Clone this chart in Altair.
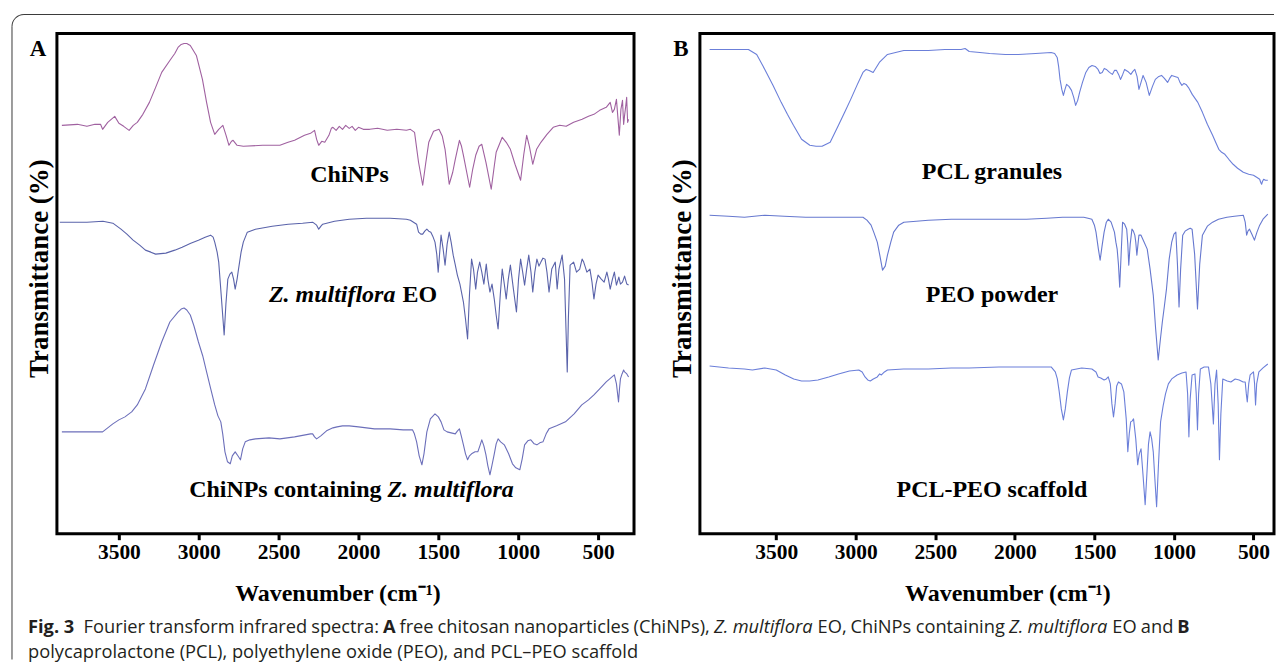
import altair as alt
import pandas as pd

# ---------------- data (wavenumber cm-1, offset transmittance a.u.) ----------------
TICKS = [3500, 3000, 2500, 2000, 1500, 1000, 500]

chinps = [(3857, 409), (3760, 410), (3700, 408), (3650, 410), (3615, 410), (3602, 405), (3570, 412),
          (3526, 418), (3500, 411), (3470, 408), (3436, 404), (3410, 409), (3385, 412), (3350, 420),
          (3309, 432), (3270, 447), (3232, 462), (3181, 474), (3150, 481), (3130, 487), (3110, 490),
          (3092, 491), (3075, 491), (3053, 489), (3015, 479), (2977, 455), (2951, 432), (2926, 412),
          (2900, 400), (2875, 405), (2849, 409), (2829, 399), (2811, 389), (2795, 393), (2785, 394),
          (2760, 389), (2721, 388), (2600, 389), (2492, 389), (2441, 392), (2400, 394), (2338, 399),
          (2300, 401), (2275, 404), (2262, 395), (2249, 389), (2230, 393), (2211, 392), (2185, 399),
          (2170, 406), (2160, 407), (2140, 404), (2120, 408), (2100, 405), (2080, 409), (2058, 406),
          (2040, 408), (2020, 404), (2000, 407), (1970, 405), (1930, 405), (1880, 406), (1820, 404),
          (1760, 405), (1700, 404), (1675, 405), (1649, 402), (1624, 372), (1598, 349), (1580, 370),
          (1560, 392), (1530, 403), (1496, 405), (1475, 398), (1458, 385), (1432, 350), (1410, 362),
          (1394, 375), (1368, 394), (1355, 388), (1343, 379), (1304, 347), (1285, 365), (1266, 379),
          (1245, 388), (1228, 390), (1202, 372), (1169, 345), (1150, 368), (1138, 382), (1100, 397),
          (1075, 392), (1049, 385), (1020, 370), (985, 354), (965, 380), (947, 399), (930, 388),
          (909, 370), (885, 385), (858, 392), (820, 400), (781, 407), (740, 409), (700, 408),
          (653, 412), (600, 415), (560, 418), (526, 420), (490, 424), (449, 427), (424, 432),
          (410, 422), (398, 425), (385, 435), (375, 415), (367, 399), (357, 425), (347, 434),
          (340, 410), (334, 419), (327, 428), (321, 437), (315, 412), (309, 415)]

eo = [(3870, 312), (3700, 312), (3600, 313), (3538, 311), (3487, 305), (3450, 300), (3411, 294),
      (3370, 289), (3334, 284), (3300, 282), (3270, 280), (3206, 281), (3150, 284), (3104, 287),
      (3050, 291), (3002, 294), (2960, 297), (2926, 299), (2910, 297), (2900, 292), (2885, 282),
      (2875, 272), (2860, 240), (2841, 199), (2830, 230), (2818, 255), (2805, 260), (2793, 262),
      (2782, 255), (2772, 245), (2760, 255), (2752, 264), (2735, 282), (2721, 292), (2696, 302),
      (2645, 305), (2540, 308), (2440, 310), (2350, 311), (2287, 312), (2262, 309), (2249, 305),
      (2235, 308), (2224, 310), (2150, 313), (2058, 315), (1950, 316), (1802, 316), (1700, 315),
      (1675, 314), (1636, 310), (1624, 302), (1610, 300), (1598, 300), (1585, 303), (1572, 305),
      (1560, 303), (1547, 302), (1535, 298), (1521, 292), (1510, 280), (1501, 262), (1490, 285),
      (1483, 299), (1470, 285), (1458, 269), (1445, 290), (1432, 302), (1420, 292), (1407, 279),
      (1395, 270), (1381, 259), (1365, 250), (1343, 232), (1330, 215), (1317, 195), (1305, 240),
      (1292, 275), (1280, 265), (1266, 245), (1255, 262), (1241, 272), (1228, 262), (1215, 250),
      (1200, 270), (1190, 255), (1177, 242), (1164, 250), (1150, 235), (1138, 219), (1126, 205),
      (1112, 240), (1100, 265), (1087, 250), (1075, 235), (1062, 255), (1049, 269), (1030, 245),
      (1011, 222), (998, 255), (985, 275), (972, 262), (960, 249), (947, 265), (934, 279),
      (920, 262), (909, 242), (896, 262), (883, 275), (870, 268), (858, 272), (845, 276),
      (832, 275), (820, 262), (807, 242), (790, 265), (768, 272), (762, 258), (756, 245),
      (745, 265), (725, 279), (710, 255), (700, 200), (693, 162), (686, 215), (675, 269),
      (653, 272), (635, 262), (615, 265), (600, 275), (590, 272), (570, 262), (551, 265),
      (538, 252), (526, 235), (513, 250), (500, 259), (480, 255), (462, 252), (445, 262),
      (435, 255), (424, 245), (410, 255), (398, 262), (385, 249), (370, 257), (360, 250),
      (347, 252), (334, 258), (320, 250), (309, 249)]

chinps_eo = [(3857, 102), (3700, 102), (3602, 102), (3570, 106), (3538, 110), (3500, 114), (3462, 117),
             (3420, 122), (3385, 129), (3334, 145), (3283, 169), (3232, 192), (3181, 212), (3130, 222),
             (3110, 225), (3092, 226), (3075, 224), (3053, 219), (3030, 208), (3002, 192), (2975, 178),
             (2951, 162), (2925, 145), (2900, 129), (2880, 118), (2862, 112), (2850, 100), (2836, 82),
             (2820, 72), (2803, 70), (2790, 78), (2772, 82), (2755, 78), (2739, 74), (2725, 85),
             (2709, 92), (2680, 94), (2645, 95), (2560, 96), (2492, 95), (2400, 97), (2300, 100),
             (2287, 100), (2275, 97), (2262, 95), (2236, 98), (2200, 103), (2160, 106), (2134, 107),
             (2100, 108), (2058, 108), (2000, 107), (1950, 106), (1900, 105), (1802, 105), (1720, 104),
             (1662, 104), (1650, 100), (1636, 92), (1620, 78), (1603, 69), (1590, 80), (1572, 102),
             (1550, 115), (1521, 120), (1500, 117), (1483, 112), (1465, 104), (1445, 102), (1420, 101),
             (1394, 100), (1380, 103), (1368, 105), (1355, 97), (1343, 89), (1330, 80), (1317, 74),
             (1305, 78), (1292, 80), (1270, 82), (1253, 82), (1240, 88), (1228, 94), (1215, 88),
             (1202, 79), (1190, 68), (1177, 59), (1165, 68), (1151, 79), (1138, 90), (1126, 95),
             (1110, 92), (1087, 89), (1060, 80), (1036, 70), (1015, 66), (990, 64), (975, 75),
             (960, 89), (940, 93), (921, 94), (900, 90), (883, 89), (865, 91), (845, 92), (825, 100),
             (807, 105), (760, 108), (704, 112), (650, 120), (602, 129), (560, 134), (526, 139),
             (490, 145), (449, 152), (420, 156), (398, 159), (385, 150), (372, 132), (366, 145),
             (360, 155), (350, 160), (340, 164), (334, 162), (320, 160), (309, 157)]

pcl = [(3919, 485), (3800, 485), (3675, 485), (3623, 480), (3572, 465), (3520, 449), (3469, 432),
       (3430, 420), (3392, 409), (3341, 395), (3289, 389), (3250, 388), (3212, 388), (3161, 392),
       (3109, 409), (3070, 422), (3032, 435), (2990, 450), (2955, 462), (2935, 465), (2916, 464),
       (2891, 462), (2852, 472), (2801, 480), (2750, 482), (2698, 484), (2620, 484), (2544, 484),
       (2440, 485), (2338, 485), (2313, 486), (2287, 483), (2220, 482), (2158, 481), (2060, 480),
       (1978, 480), (1870, 481), (1772, 482), (1750, 481), (1734, 477), (1725, 468), (1716, 455),
       (1705, 445), (1695, 439), (1685, 445), (1675, 450), (1660, 448), (1644, 444), (1630, 437),
       (1618, 429), (1605, 434), (1593, 442), (1575, 452), (1554, 462), (1535, 467), (1515, 469),
       (1495, 468), (1477, 465), (1465, 461), (1451, 462), (1438, 466), (1425, 465), (1405, 462),
       (1387, 460), (1374, 464), (1361, 464), (1348, 460), (1336, 455), (1322, 460), (1310, 465),
       (1290, 463), (1271, 460), (1258, 463), (1246, 465), (1232, 458), (1220, 445), (1207, 452),
       (1194, 459), (1175, 452), (1155, 439), (1135, 448), (1117, 455), (1095, 458), (1078, 459),
       (1060, 456), (1040, 452), (1027, 456), (1014, 459), (995, 458), (975, 457), (962, 452),
       (950, 449), (937, 451), (924, 450), (905, 446), (885, 440), (850, 432), (821, 422),
       (790, 410), (757, 399), (735, 391), (718, 385), (700, 382), (680, 380), (655, 375),
       (628, 370), (600, 366), (564, 362), (530, 360), (500, 359), (480, 357), (461, 355),
       (455, 352), (449, 350), (443, 353), (436, 355), (425, 354), (410, 354)]

peo = [(3919, 319), (3800, 318), (3700, 317), (3572, 319), (3450, 318), (3315, 317), (3150, 317),
       (2955, 317), (2930, 314), (2904, 309), (2885, 301), (2865, 292), (2848, 278), (2832, 264),
       (2815, 268), (2801, 279), (2780, 292), (2762, 302), (2730, 309), (2698, 312), (2620, 313),
       (2544, 314), (2400, 315), (2287, 315), (2100, 315), (1927, 315), (1800, 316), (1700, 317),
       (1567, 317), (1540, 316), (1516, 315), (1500, 309), (1490, 302), (1475, 285), (1464, 274),
       (1452, 288), (1439, 302), (1425, 312), (1413, 315), (1395, 312), (1374, 302), (1365, 292),
       (1357, 285), (1349, 270), (1341, 247), (1332, 280), (1323, 312), (1310, 310), (1297, 305),
       (1290, 290), (1284, 269), (1275, 290), (1264, 305), (1255, 303), (1246, 299), (1240, 292),
       (1233, 279), (1226, 290), (1220, 299), (1207, 299), (1190, 293), (1168, 285), (1150, 265),
       (1130, 239), (1115, 205), (1099, 174), (1085, 195), (1073, 212), (1060, 228), (1047, 245),
       (1030, 275), (1014, 292), (1000, 300), (988, 302), (978, 270), (968, 227), (958, 265),
       (945, 299), (930, 303), (911, 305), (898, 306), (886, 305), (870, 280), (852, 225),
       (838, 270), (821, 299), (790, 308), (757, 312), (720, 315), (667, 317), (620, 318),
       (564, 319), (552, 312), (543, 299), (535, 303), (525, 305), (510, 300), (494, 294),
       (478, 302), (461, 309), (440, 315), (410, 320)]

pcl_peo = [(3919, 168), (3800, 166), (3700, 165), (3650, 164), (3572, 166), (3500, 164), (3443, 159),
           (3390, 155), (3341, 153), (3290, 153), (3238, 154), (3170, 157), (3109, 160), (3040, 163),
           (2981, 164), (2960, 162), (2942, 157), (2925, 154), (2909, 153), (2890, 155), (2865, 157),
           (2850, 160), (2839, 159), (2820, 162), (2801, 164), (2700, 165), (2544, 165), (2400, 166),
           (2287, 166), (2100, 167), (1900, 167), (1772, 167), (1746, 162), (1733, 155), (1721, 142),
           (1708, 125), (1695, 114), (1683, 125), (1670, 142), (1657, 156), (1644, 164), (1580, 166),
           (1516, 165), (1490, 162), (1477, 157), (1460, 156), (1439, 154), (1425, 155), (1413, 157),
           (1400, 150), (1390, 130), (1380, 117), (1370, 130), (1360, 148), (1349, 152), (1330, 150),
           (1315, 142), (1300, 115), (1290, 82), (1281, 100), (1272, 112), (1262, 113), (1254, 115),
           (1240, 95), (1228, 69), (1218, 80), (1207, 85), (1195, 60), (1181, 29), (1170, 60),
           (1160, 90), (1150, 102), (1140, 95), (1130, 82), (1120, 55), (1109, 27), (1097, 70),
           (1084, 112), (1068, 128), (1053, 140), (1035, 150), (1014, 155), (980, 159), (950, 161),
           (924, 162), (914, 140), (906, 97), (898, 135), (886, 159), (868, 160), (860, 140),
           (852, 104), (845, 140), (834, 165), (810, 167), (783, 167), (768, 150), (752, 110),
           (742, 150), (732, 164), (722, 130), (714, 74), (705, 120), (693, 155), (665, 153),
           (642, 152), (615, 155), (590, 154), (565, 152), (552, 152), (545, 140), (539, 132),
           (530, 150), (521, 159), (500, 162), (493, 150), (487, 129), (480, 150), (466, 162),
           (440, 166), (410, 170)]

SERIES_A = ["ChiNPs", "Z. multiflora EO", "ChiNPs containing Z. multiflora"]
COLORS_A = ["#a061a0", "#5a63aa", "#6c6fba"]
SERIES_B = ["PCL granules", "PEO powder", "PCL-PEO scaffold"]
COLORS_B = ["#6b7fd9", "#6678cf", "#6b7fd9"]

# labels: (text, wn, t, style, align)
labels_a = [("ChiNPs", 2056, 359, "normal", "center"),
            ("Z. multiflora", 1769, 239, "italic", "right"),
            ("EO", 1725, 239, "normal", "left"),
            ("ChiNPs containing", 1856, 44, "normal", "right"),
            ("Z. multiflora", 1819, 44, "italic", "left")]
labels_b = [("PCL granules", 2144, 362, "normal", "center"),
            ("PEO powder", 2144, 239, "normal", "center"),
            ("PCL-PEO scaffold", 2144, 44, "normal", "center")]

# caption words of the justified first line: (text, weight, style)
caption_line1 = [("Fig. 3", "bold", "normal"), ("Fourier", "normal", "normal"),
                 ("transform", "normal", "normal"), ("infrared", "normal", "normal"),
                 ("spectra:", "normal", "normal"), ("A", "bold", "normal"),
                 ("free", "normal", "normal"), ("chitosan", "normal", "normal"),
                 ("nanoparticles", "normal", "normal"), ("(ChiNPs),", "normal", "normal"),
                 ("Z.", "normal", "italic"), ("multiflora", "normal", "italic"),
                 ("EO,", "normal", "normal"), ("ChiNPs", "normal", "normal"),
                 ("containing", "normal", "normal"), ("Z.", "normal", "italic"),
                 ("multiflora", "normal", "italic"), ("EO", "normal", "normal"),
                 ("and", "normal", "normal"), ("B", "bold", "normal")]
caption_line2 = "polycaprolactone (PCL), polyethylene oxide (PEO), and PCL\u2013PEO scaffold"

SERIF = "Liberation Serif"
SANS = "Open Sans"
CAP_SIZE = 18.3
PANEL_H = 501
DUMMY = pd.DataFrame({"d": [0]})

# approximate Open Sans advance widths (units per 2048 em) for text layout
ADV = {" ": 532, "(": 606, ")": 606, ",": 502, ".": 545, ":": 545, "3": 1171,
       "A": 1296, "B": 1327, "C": 1292, "E": 1139, "F": 1057, "N": 1571, "O": 1599,
       "P": 1251, "Z": 1147, "a": 1139, "c": 975, "d": 1255, "e": 1149, "f": 694,
       "g": 1122, "h": 1257, "i": 518, "l": 518, "m": 1905, "n": 1257, "o": 1237,
       "p": 1255, "r": 836, "s": 977, "t": 723, "u": 1257}


def word_width(text, weight, style):
    w = sum(ADV.get(ch, 1100) for ch in text) / 2048.0 * CAP_SIZE
    if weight == "bold":
        w *= 1.08
    if style == "italic":
        w *= 0.97
    return w


def justify(words, left, right, first_gap_extra):
    widths = [word_width(*w) for w in words]
    gaps = len(words) - 1
    gap = (right - left - sum(widths) - first_gap_extra) / gaps
    xs, x = [], left
    for i, w in enumerate(widths):
        xs.append(x)
        x += w + gap + (first_gap_extra if i == 0 else 0)
    return xs


def spectra_df(names, spectra):
    rows = []
    for name, pts in zip(names, spectra):
        for wn, t in pts:
            rows.append({"series": name, "wn": wn, "t": t})
    return pd.DataFrame(rows)


COLOR_SCALE = alt.Scale(domain=SERIES_A + SERIES_B, range=COLORS_A + COLORS_B)


def panel(names, spectra, domain, width, labels, letter, title_x):
    df = spectra_df(names, spectra)
    xenc = alt.X("wn:Q",
                 scale=alt.Scale(domain=domain, nice=False, zero=False),
                 axis=alt.Axis(values=TICKS, format="d", grid=False, domain=False,
                               tickColor="black", tickWidth=3, tickSize=6,
                               labelFont=SERIF, labelFontWeight="bold", labelFontSize=21.5,
                               labelColor="black", labelPadding=2,
                               title="Wavenumber (cm\u207b\u00b9)", titleFont=SERIF,
                               titleFontWeight="bold", titleFontSize=24, titleColor="black",
                               titleX=title_x, titleY=60, titleAlign="center",
                               titleBaseline="middle"))
    yenc = alt.Y("t:Q",
                 scale=alt.Scale(domain=[0, PANEL_H], nice=False, zero=False),
                 axis=alt.Axis(labels=False, ticks=False, domain=False, grid=False,
                               title="Transmittance (%)", titleFont=SERIF,
                               titleFontWeight="bold", titleFontSize=27, titleColor="black",
                               titleAngle=270, titleX=-17, titleY=235, titleAlign="center",
                               titleBaseline="middle"))
    lines = alt.Chart(df).mark_line(strokeWidth=1.1, strokeJoin="round").encode(
        x=xenc, y=yenc, detail="series:N",
        color=alt.Color("series:N", scale=COLOR_SCALE, legend=None))
    layers = [lines]
    for text, wn, t, style, align in labels:
        ldf = pd.DataFrame({"wn": [wn], "t": [t], "label": [text]})
        layers.append(alt.Chart(ldf).mark_text(
            font=SERIF, fontWeight="bold", fontStyle=style, fontSize=24,
            align=align, baseline="middle", color="black").encode(
            x="wn:Q", y="t:Q", text="label:N"))
    layers.append(alt.Chart(DUMMY).mark_text(
        font=SERIF, fontWeight="bold", fontSize=23, align="center", baseline="middle",
        color="black").encode(x=alt.value(-19), y=alt.value(16), text=alt.value(letter)))
    return alt.layer(*layers).properties(width=width, height=PANEL_H)


A = panel(SERIES_A, [chinps, eo, chinps_eo], [3888, 275], 578, labels_a, "A", 281)
B = panel(SERIES_B, [pcl, peo, pcl_peo], [3980, 371], 575, labels_b, "B", 308)

# outer rounded frame and caption, placed relative to panel A's plot area (page x 55, y 31)
extra = []
border = "#3a3a3a"
extra.append(alt.Chart(DUMMY).mark_rule(color=border, strokeWidth=1).encode(
    x=alt.value(-33), x2=alt.value(1219), y=alt.value(-19)))
extra.append(alt.Chart(DUMMY).mark_rule(color=border, strokeWidth=1).encode(
    x=alt.value(-45), y=alt.value(-7), y2=alt.value(627)))
extra.append(alt.Chart(DUMMY).mark_arc(color=border, innerRadius=11.5, outerRadius=12.5,
                                       theta=4.7124, theta2=6.2832).encode(
    x=alt.value(-33), y=alt.value(-7)))

xs = justify(caption_line1, 26, 1190, 4)
for (text, weight, style), px in zip(caption_line1, xs):
    extra.append(alt.Chart(DUMMY).mark_text(
        font=SANS, fontSize=CAP_SIZE, fontWeight=weight, fontStyle=style, align="left",
        baseline="middle", color="#231f20").encode(
        x=alt.value(round(px - 55, 1)), y=alt.value(595), text=alt.value(text)))
extra.append(alt.Chart(DUMMY).mark_text(
    font=SANS, fontSize=CAP_SIZE, align="left", baseline="middle", color="#231f20").encode(
    x=alt.value(26 - 55), y=alt.value(621), text=alt.value(caption_line2)))

A = alt.layer(A, *extra)

chart = alt.hconcat(A, B, spacing=66, bounds="flush").configure(
    padding={"left": 2, "top": 4, "right": 0, "bottom": 0},
    background="white").configure_view(stroke="black", strokeWidth=3)

chart.save("out.html", embed_options={"renderer": "svg", "actions": False})
